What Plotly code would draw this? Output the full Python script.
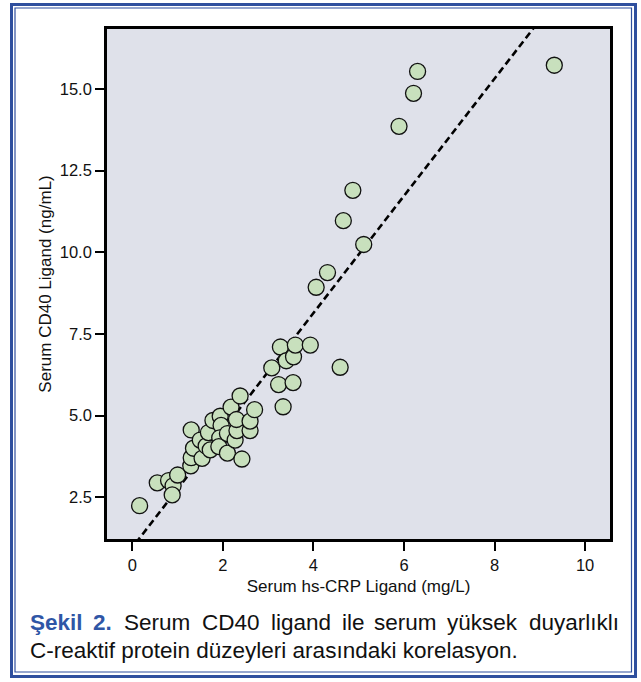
import plotly.graph_objects as go

# ---- data ----
hs_crp = [0.16, 0.55, 0.80, 0.90, 0.88, 1.00, 1.29, 1.30, 1.35, 1.30,
          1.50, 1.54, 1.63, 1.72, 1.68, 1.78, 1.94, 1.96, 1.93, 1.91,
          2.10, 2.10, 2.18, 2.27, 2.31, 2.30, 2.38, 2.42, 2.60, 2.60,
          2.70, 3.08, 3.23, 3.27, 3.40, 3.33, 3.56, 3.55, 3.60, 3.93,
          4.06, 4.31, 4.59, 4.66, 4.87, 5.11, 5.89, 6.21, 6.30, 9.32]
cd40l = [2.24, 2.94, 3.01, 2.85, 2.57, 3.18, 3.46, 3.71, 4.00, 4.56,
         4.25, 3.69, 4.07, 3.95, 4.48, 4.85, 4.98, 4.70, 4.32, 4.05,
         3.85, 4.45, 5.26, 4.25, 4.54, 4.88, 5.60, 3.67, 4.54, 4.83,
         5.18, 6.46, 5.95, 7.10, 6.68, 5.27, 6.80, 6.01, 7.16, 7.16,
         8.93, 9.38, 6.48, 10.97, 11.90, 10.24, 13.86, 14.87, 15.54, 15.73]
fit_intercept = 0.96
fit_slope = 1.795
x_ticks = [0, 2, 4, 6, 8, 10]
y_ticks = [2.5, 5.0, 7.5, 10.0, 12.5, 15.0]
x_title = "Serum hs-CRP Ligand (mg/L)"
y_title = "Serum CD40 Ligand (ng/mL)"
caption_line1 = ["Şekil", "2.", "Serum", "CD40", "ligand", "ile", "serum", "yüksek", "duyarlıklı"]
caption_line2 = "C-reaktif protein düzeyleri arasındaki korelasyon."

X_RANGE = [-0.56, 10.55]
Y_RANGE = [1.22, 16.84]

W, H = 641, 682
L, R, T, B = 107, 31, 29, 143
PW, PH = W - L - R, H - T - B

def px(x):
    return (x - L) / PW

def py(y):
    return (H - B - y) / PH

FONT = "Liberation Sans, Arial, Helvetica, sans-serif"

fit_x = [X_RANGE[0] - 1, X_RANGE[1] + 1]
fit_y = [fit_intercept + fit_slope * v for v in fit_x]

fig = go.Figure()
fig.add_trace(go.Scatter(x=fit_x, y=fit_y, mode="lines",
                         line=dict(color="black", width=2.6, dash="7px,4px"),
                         hoverinfo="skip", showlegend=False))
fig.add_trace(go.Scatter(x=hs_crp, y=cd40l, mode="markers",
                         marker=dict(size=16, color="#c8e0bd",
                                     line=dict(color="#111111", width=1.3)),
                         showlegend=False))

fig.update_layout(
    width=W, height=H,
    margin=dict(l=L, r=R, t=T, b=B),
    paper_bgcolor="white", plot_bgcolor="#dfe1ea",
    font=dict(family=FONT, color="#111111"),
    xaxis=dict(range=X_RANGE, tickvals=x_ticks, ticktext=[str(v) for v in x_ticks],
               showgrid=False, zeroline=False, showline=True, mirror=True,
               linecolor="black", linewidth=2.6, ticks="outside", ticklen=9,
               tickwidth=2.4, tickcolor="black", tickfont=dict(size=16.5),
               title=dict(text=x_title, font=dict(size=17), standoff=8)),
    yaxis=dict(range=Y_RANGE, tickvals=y_ticks, ticktext=[f"{v:.1f}" for v in y_ticks],
               showgrid=False, zeroline=False, showline=True, mirror=True,
               linecolor="black", linewidth=2.6, ticks="outside", ticklen=9,
               tickwidth=2.4, tickcolor="black", tickfont=dict(size=16.5),
               title=dict(text=y_title, font=dict(size=17), standoff=4)),
)

# double blue frame
fig.add_shape(type="rect", xref="paper", yref="paper",
              x0=px(11.5), x1=px(635.5), y0=py(676.5), y1=py(4.5),
              line=dict(color="#2f4f9e", width=3), layer="above")
fig.add_shape(type="rect", xref="paper", yref="paper",
              x0=px(15), x1=px(631.5), y0=py(672), y1=py(8),
              line=dict(color="#2f4f9e", width=1.2), layer="above")

# caption line 1 (justified, word by word)
starts = [28, 91, 122, 199.5, 268.5, 339.5, 372, 445, 621]
for i, (w, s) in enumerate(zip(caption_line1, starts)):
    blue = i < 2
    last = i == len(caption_line1) - 1
    fig.add_annotation(xref="paper", yref="paper", x=px(s), y=py(622),
                       xanchor="right" if last else "left", yanchor="middle",
                       showarrow=False,
                       text=f"<b>{w}</b>" if blue else w,
                       font=dict(size=22.5, family=FONT,
                                 color="#2f56a6" if blue else "#111111"))
fig.add_annotation(xref="paper", yref="paper", x=px(28), y=py(650),
                   xanchor="left", yanchor="middle", showarrow=False,
                   text=caption_line2, font=dict(size=22.5, family=FONT, color="#111111"))

fig.write_html("out.html", config={"displayModeBar": False},
               post_script="document.body.style.margin='0';document.body.style.overflow='hidden';")
